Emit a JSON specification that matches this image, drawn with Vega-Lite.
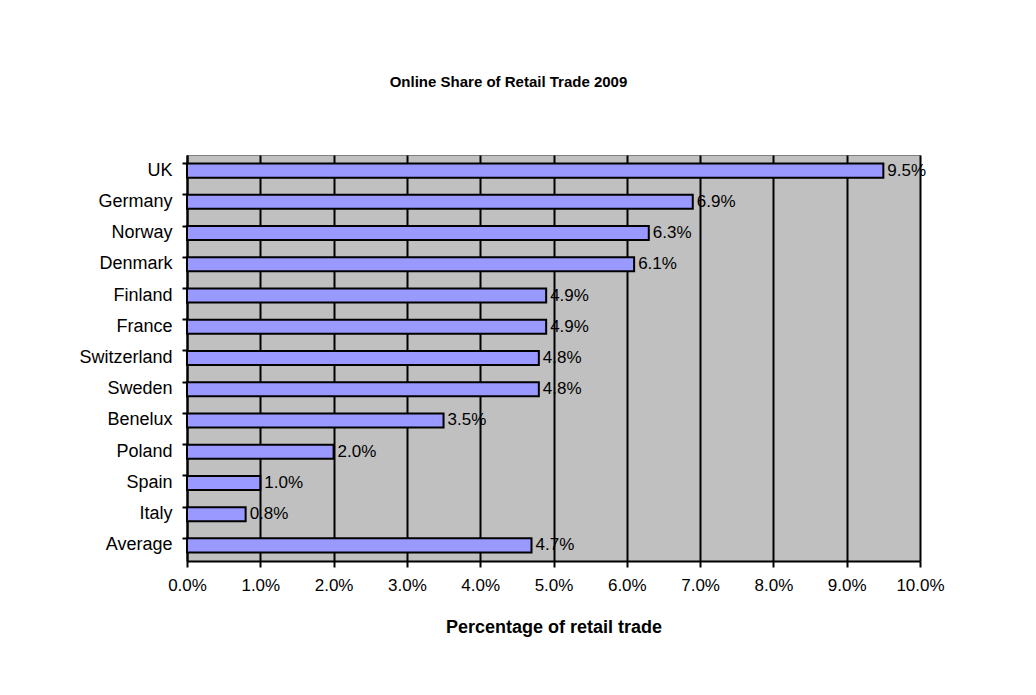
{
  "$schema": "https://vega.github.io/schema/vega-lite/v6.json",
  "width": 733,
  "height": 406,
  "autosize": {"type": "none"},
  "padding": {"left": 187, "top": 155, "right": 116, "bottom": 134},
  "background": "white",
  "title": {
    "text": "Online Share of Retail Trade 2009",
    "font": "Liberation Sans",
    "fontSize": 15,
    "fontWeight": "bold",
    "color": "black",
    "anchor": "middle",
    "dx": -45,
    "offset": 65
  },
  "config": {
    "view": {"fill": "#C0C0C0", "stroke": "#808080", "strokeWidth": 1},
    "font": "Liberation Sans"
  },
  "data": {
    "values": [
      {"country": "UK", "share": 0.095},
      {"country": "Germany", "share": 0.069},
      {"country": "Norway", "share": 0.063},
      {"country": "Denmark", "share": 0.061},
      {"country": "Finland", "share": 0.049},
      {"country": "France", "share": 0.049},
      {"country": "Switzerland", "share": 0.048},
      {"country": "Sweden", "share": 0.048},
      {"country": "Benelux", "share": 0.035},
      {"country": "Poland", "share": 0.02},
      {"country": "Spain", "share": 0.01},
      {"country": "Italy", "share": 0.008},
      {"country": "Average", "share": 0.047}
    ]
  },
  "encoding": {
    "y": {
      "field": "country",
      "type": "nominal",
      "sort": null,
      "scale": {"paddingInner": 0.55, "paddingOuter": 0.275},
      "axis": {
        "title": null,
        "bandPosition": 0,
        "domainColor": "black",
        "domainWidth": 2,
        "tickColor": "black",
        "tickWidth": 2,
        "tickSize": 5,
        "labelPadding": 10,
        "labelFontSize": 18,
        "labelColor": "black",
        "labelBaseline": "middle",
        "grid": false
      }
    },
    "x": {
      "field": "share",
      "type": "quantitative",
      "scale": {"domain": [0, 0.1], "nice": false},
      "axis": {
        "title": "Percentage of retail trade",
        "titleFontSize": 18,
        "titleFontWeight": "bold",
        "titleColor": "black",
        "titlePadding": 25,
        "format": ".1%",
        "values": [0, 0.01, 0.02, 0.03, 0.04, 0.05, 0.06, 0.07, 0.08, 0.09, 0.1],
        "labelFlush": false,
        "labelOverlap": false,
        "domainColor": "black",
        "domainWidth": 2,
        "tickColor": "black",
        "tickWidth": 2,
        "tickSize": 6,
        "labelPadding": 10,
        "labelFontSize": 17,
        "labelColor": "black",
        "grid": true,
        "gridColor": "black",
        "gridWidth": 2,
        "gridOpacity": 1
      }
    }
  },
  "layer": [
    {
      "mark": {"type": "bar", "fill": "#9999FF", "stroke": "black", "strokeWidth": 2}
    },
    {
      "mark": {"type": "text", "align": "left", "baseline": "middle", "dx": 4, "fontSize": 17, "color": "black"},
      "encoding": {
        "text": {"field": "share", "type": "quantitative", "format": ".1%"}
      }
    }
  ]
}
